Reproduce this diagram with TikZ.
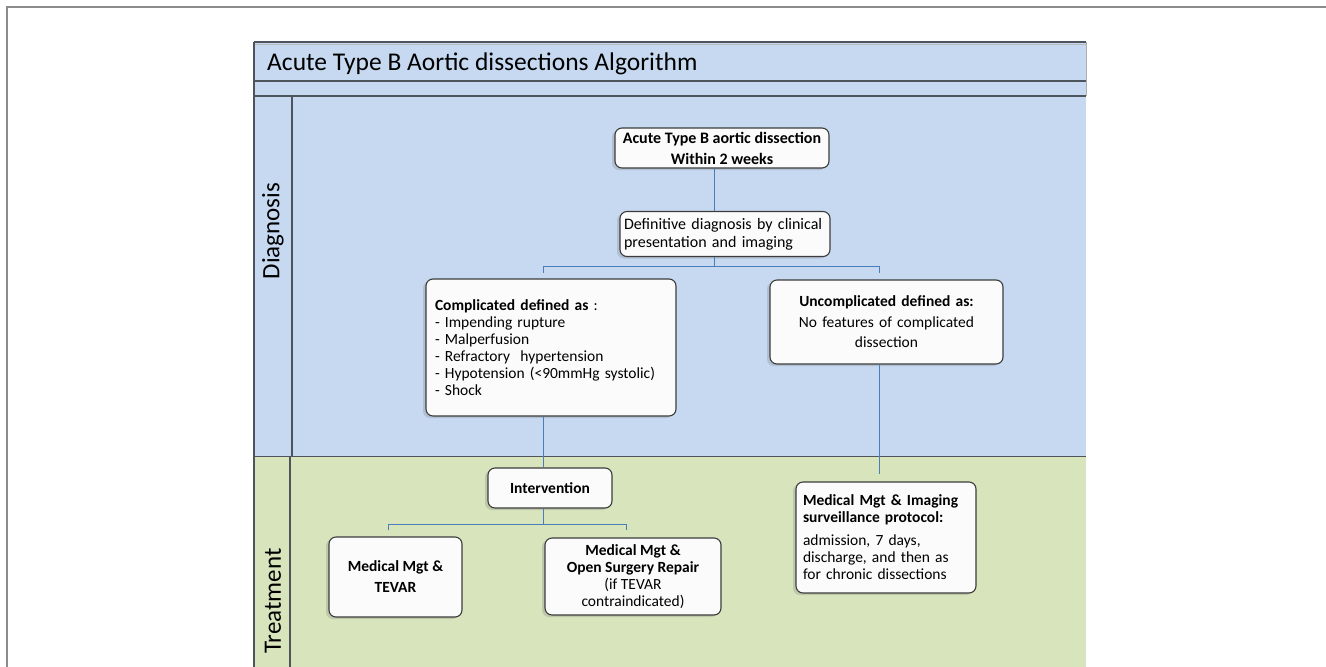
\documentclass[tikz,border=0pt]{standalone}
\usepackage{fontspec}
\setmainfont{Carlito}
\usetikzlibrary{shadows}
\definecolor{bluebg}{HTML}{C6D9F0}
\definecolor{greenbg}{HTML}{D7E4BC}
\definecolor{conncol}{HTML}{4A7EBB}
\definecolor{edgecol}{HTML}{3C3C3C}
\definecolor{framecol}{HTML}{8C8C8C}
\definecolor{lanecol}{HTML}{4E545C}
\definecolor{boxfill}{HTML}{FBFBFB}
\begin{document}
\begin{tikzpicture}[x=1pt,y=-1pt,
  box/.style={draw=edgecol, line width=1.1pt, rounded corners=7pt, fill=boxfill,
    drop shadow={shadow xshift=-3pt, shadow yshift=-2pt, opacity=0.22, fill=black!60},
    font=\fontsize{15.5}{17}\selectfont, inner sep=0pt},
  link/.style={draw=conncol, line width=1pt},
  lane/.style={draw=lanecol, line width=1.5pt},
  lanelabel/.style={rotate=90, font=\fontsize{25}{30}\selectfont}]
\useasboundingbox (0,0) rectangle (1326,667);
% outer frame
\draw[framecol, line width=2pt] (7,667) -- (7,7) -- (1326,7);
% backgrounds
\fill[bluebg] (254,42) rectangle (1086,457);
\fill[greenbg] (254,457) rectangle (1086,667);
% lane lines
\draw[lane] (254,42) -- (1086,42);
\draw[lanecol!40, line width=0.8pt] (254,44.5) -- (1086,44.5);
\draw[lane] (254,81) -- (1086,81);
\draw[lane] (254,96) -- (1086,96);
\draw[lane] (254,456.5) -- (1086,456.5);
\draw[lane] (254,42) -- (254,667);
\draw[lane] (292,96) -- (292,456);
\draw[lane] (290,457) -- (290,667);
\draw[framecol!70, line width=0.8pt] (1086,42) -- (1086,96);
% title and lane labels
\node[anchor=west, font=\fontsize{25.5}{30}\selectfont, inner sep=0pt] (title) at (267,64) {Acute Type B Aortic dissections Algorithm};
\node[lanelabel] (diag) at (273,231) {Diagnosis};
\node[lanelabel] (treat) at (273,601) {Treatment};
% nodes
\node[box, minimum width=214pt, minimum height=40pt, align=center, font=\fontsize{16}{17}\selectfont] (acute) at (722,148)
  {\textbf{Acute Type B aortic dissection}\\[4pt]\textbf{Within 2 weeks}};
\node[box, minimum width=210pt, minimum height=45pt, text width=202pt, align=left, font=\fontsize{16}{18}\selectfont] (def) at (725,234)
  {Definitive diagnosis by clinical\\presentation and imaging};
\node[box, minimum width=250pt, minimum height=137pt, text width=232pt, align=left] (comp) at (551,347.5)
  {\textbf{Complicated defined as} :\\- Impending rupture\\- Malperfusion\\- Refractory\ \ hypertension\\- Hypotension (<90mmHg systolic)\\- Shock};
\node[box, minimum width=233pt, minimum height=84pt, text width=220pt, align=center, font=\fontsize{15.5}{20}\selectfont] (unc) at (886.5,322)
  {\textbf{Uncomplicated defined as:}\\[1pt]No features of complicated\\dissection};
\node[box, minimum width=124pt, minimum height=40pt, align=center] (inter) at (550,488)
  {\textbf{Intervention}};
\node[box, minimum width=133pt, minimum height=80pt, align=center] (tevar) at (395.5,577)
  {\textbf{Medical Mgt \&}\\[4pt]\textbf{TEVAR}};
\node[box, minimum width=176pt, minimum height=77pt, align=center] (open) at (633,576.5)
  {\textbf{Medical Mgt \&}\\\textbf{Open Surgery Repair}\\(if TEVAR\\contraindicated)};
\node[box, minimum width=180pt, minimum height=111pt, text width=166pt, align=left] (surv) at (886,537.5)
  {\textbf{Medical Mgt \& Imaging}\\\textbf{surveillance protocol:}\\[6pt]admission, 7 days,\\discharge, and then as\\for chronic dissections};
% connectors
\coordinate (j1) at (714,266);
\coordinate (bl) at (543,266);
\coordinate (br) at (879,266);
\coordinate (j2) at (543,524);
\coordinate (tl) at (388,524);
\coordinate (tr) at (626,524);
\draw[link] (acute.south -| j1) -- (def.north -| j1);
\draw[link] (def.south -| j1) -- (j1);
\draw[link] (bl) ++(0,7) -- (bl) -- (br) -- ++(0,7);
\draw[link] (comp.south -| bl) -- (inter.north -| bl);
\draw[link] (inter.south -| j2) -- (j2);
\draw[link] (tl) ++(0,6) -- (tl) -- (tr) -- ++(0,6);
\draw[link, shorten >=7pt] (unc.south -| br) -- (surv.north -| br);
\end{tikzpicture}
\end{document}
